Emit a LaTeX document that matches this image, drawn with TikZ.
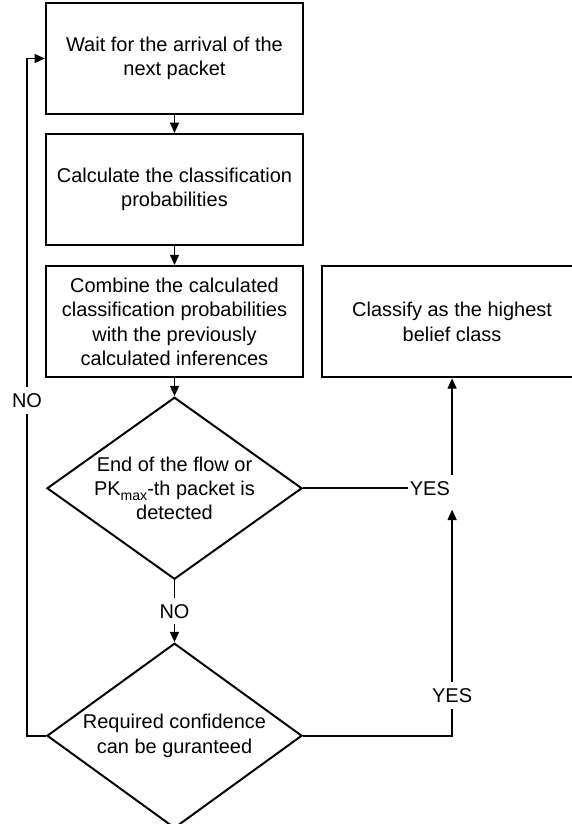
\documentclass[tikz,border=0pt]{standalone}
\usepackage{fontspec}
\setmainfont{Liberation Sans}
\usetikzlibrary{shapes.geometric,arrows.meta,positioning,calc}

\begin{document}
\begin{tikzpicture}[
  node distance=4.5mm,
  every node/.style={font=\fontsize{14.2pt}{17.3pt}\selectfont},
  block/.style={draw, line width=1.5pt, inner sep=0pt,
                minimum width=64.25mm, minimum height=27.75mm,
                align=center},
  decision/.style={draw, diamond, line width=1.4pt, inner sep=0pt,
                   aspect=1.4, minimum width=63.75mm, minimum height=45.5mm,
                   align=center},
  lbl/.style={fill=white, inner xsep=0.5mm, inner ysep=1.5mm},
  line/.style={line width=1.4pt},
  arr/.style={line, -{Triangle[length=2.6mm, width=2.2mm]}}
]
\useasboundingbox (-43.625mm,14.625mm) rectangle (99.125mm,-191.375mm);

% main column
\node[block] (wait) at (0,0) {Wait for the arrival of the\\next packet};
\node[block, below=of wait] (calc) {Calculate the classification\\probabilities};
\node[block, below=4.75mm of calc] (comb) {Combine the calculated\\classification probabilities\\with the previously\\calculated inferences};
\node[block, right=4.25mm of comb, minimum width=65mm] (cls) {Classify as the highest\\belief class};
\node[decision, below=of comb] (endf) {End of the flow or\\PK\smash{\raisebox{-0.28em}{\fontsize{10pt}{10pt}\selectfont max}}-th packet is\\detected};
\node[decision, below=15.5mm of endf, minimum height=46.25mm] (conf) {Required confidence\\can be guranteed};

% label anchors
\coordinate (yesa) at (cls.south |- endf.east);
\coordinate (yesb) at (cls.south |- conf.east);
\coordinate (noa) at ([xshift=-4.75mm]conf.west);
\node[lbl, anchor=east] (yes1) at (yesa) {YES};
\node[lbl] (yes2) at ([yshift=10mm]yesb) {YES};
\node[lbl] (no1) at ([yshift=-1mm]noa |- endf.north) {NO};

\draw[arr] (wait) -- (calc);
\draw[arr] (calc) -- (comb);
\draw[arr] (comb) -- (endf);
\draw[arr] (endf.south) -- node[lbl] (no2) {NO} (conf.north);

\draw[line] (endf.east) -- (yes1.west);
\draw[arr] (yesa |- yes1.north) -- (cls.south);
\draw[line] (conf.east) -- (yesb) -- (yes2.south);
\draw[arr, shorten >=2mm] (yes2.north) -- (yesa |- yes1.south);

\draw[line] (conf.west) -- (noa) -- (no1.south);
\draw[arr] (no1.north) -- (noa |- wait.west) -- (wait.west);

\end{tikzpicture}
\end{document}
